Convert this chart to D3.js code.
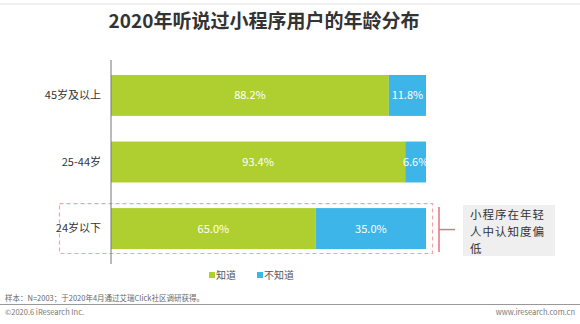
<!DOCTYPE html>
<html>
<head>
<meta charset="utf-8">
<script src="https://cdn.jsdelivr.net/npm/d3@7"></script>
<style>
  html, body { margin: 0; padding: 0; background: #fff; }
  svg { display: block; font-family: "Noto Sans CJK SC", "Noto Sans", sans-serif; }
</style>
</head>
<body>
<svg id="chart" width="580" height="324"></svg>
<script>
// Age groups, top to bottom
const categories = ["45岁及以上", "25-44岁", "24岁以下"];
// Share of respondents who have heard of mini programs (%)
const knowValues = [88.2, 93.4, 65.0];
// Share who have not (%)
const unknownValues = [11.8, 6.6, 35.0];
const seriesNames = ["知道", "不知道"];
const colors = ["#afcf30", "#3db5e8"];
const calloutLines = ["小程序在年轻", "人中认知度偏", "低"];

const svg = d3.select("#chart");
const W = 580, H = 324;

// top rule
svg.append("line").attr("x1", 0).attr("x2", W).attr("y1", 4).attr("y2", 4)
  .attr("stroke", "#e2e2e2").attr("stroke-width", 1);

// title
svg.append("text").attr("x", 264).attr("y", 28).attr("text-anchor", "middle")
  .attr("font-size", 19).attr("font-weight", "bold").attr("fill", "#333")
  .text("2020年听说过小程序用户的年龄分布");

const x = d3.scaleLinear().domain([0, 100]).range([111, 426]);
const y = d3.scaleBand().domain(categories).range([60, 264])
  .paddingInner(0.385).paddingOuter(0.225);

const rows = categories.map((c, i) => ({ cat: c, vals: [knowValues[i], unknownValues[i]] }));

// highlight box around the youngest group
const hl = categories[2];
svg.append("rect")
  .attr("x", 59.5).attr("y", y(hl) - 4.5)
  .attr("width", 373).attr("height", y.bandwidth() + 9)
  .attr("fill", "none").attr("stroke", "#f2a3ac").attr("stroke-width", 1.2)
  .attr("stroke-dasharray", "4,3");

// bars
rows.forEach(r => {
  let acc = 0;
  r.vals.forEach((v, j) => {
    const x0 = x(acc), x1 = x(acc + v);
    svg.append("rect").attr("x", x0).attr("y", y(r.cat))
      .attr("width", x1 - x0).attr("height", y.bandwidth()).attr("fill", colors[j]);
    svg.append("text").attr("x", (x0 + x1) / 2).attr("y", y(r.cat) + y.bandwidth() / 2 + 4)
      .attr("text-anchor", "middle").attr("font-size", 11).attr("fill", "#fff")
      .text(v.toFixed(1) + "%");
    acc += v;
  });
});

// category axis
const axis = svg.append("g").attr("transform", "translate(111,0)")
  .call(d3.axisLeft(y).tickSize(0).tickPadding(10));
axis.select(".domain").attr("stroke", "#777").attr("d", "M0,60V264");
axis.selectAll("text").attr("font-size", 11).attr("fill", "#333")
  .attr("font-family", "'Noto Sans CJK SC', sans-serif");

// bracket and callout
const bTop = y(hl) - 1, bBot = y(hl) + y.bandwidth() + 3;
svg.append("line").attr("x1", 439).attr("x2", 439).attr("y1", bTop).attr("y2", bBot)
  .attr("stroke", "#e8707f").attr("stroke-width", 1.5);
svg.append("line").attr("x1", 439).attr("x2", 455).attr("y1", (bTop + bBot) / 2).attr("y2", (bTop + bBot) / 2)
  .attr("stroke", "#e8707f").attr("stroke-width", 1.5);
svg.append("rect").attr("x", 463).attr("y", 205).attr("width", 92).attr("height", 51)
  .attr("fill", "#efefef");
const callout = svg.append("text").attr("x", 470).attr("y", 219)
  .attr("font-size", 11.5).attr("letter-spacing", 1).attr("fill", "#333");
callout.selectAll("tspan").data(calloutLines).join("tspan")
  .attr("x", 470).attr("dy", (d, i) => i === 0 ? 0 : 16.8).text(d => d);

// legend
const legend = svg.append("g");
[[209, 0], [257, 1]].forEach(([lx, j]) => {
  legend.append("rect").attr("x", lx).attr("y", 272).attr("width", 6).attr("height", 6).attr("fill", colors[j]);
  legend.append("text").attr("x", lx + 7).attr("y", 279).attr("font-size", 10).attr("fill", "#555").text(seriesNames[j]);
});

// footer
svg.append("text").attr("x", 5).attr("y", 301).attr("font-size", 7.5).attr("fill", "#666")
  .text("样本：N=2003；于2020年4月通过艾瑞Click社区调研获得。");
svg.append("line").attr("x1", 0).attr("x2", W).attr("y1", 304.5).attr("y2", 304.5)
  .attr("stroke", "#999").attr("stroke-width", 1);
svg.append("text").attr("x", 5).attr("y", 315).attr("font-size", 7.5).attr("fill", "#777")
  .text("©2020.6 iResearch Inc.");
svg.append("text").attr("x", 575).attr("y", 315).attr("text-anchor", "end").attr("font-size", 7.5).attr("fill", "#777")
  .text("www.iresearch.com.cn");
</script>
</body>
</html>
